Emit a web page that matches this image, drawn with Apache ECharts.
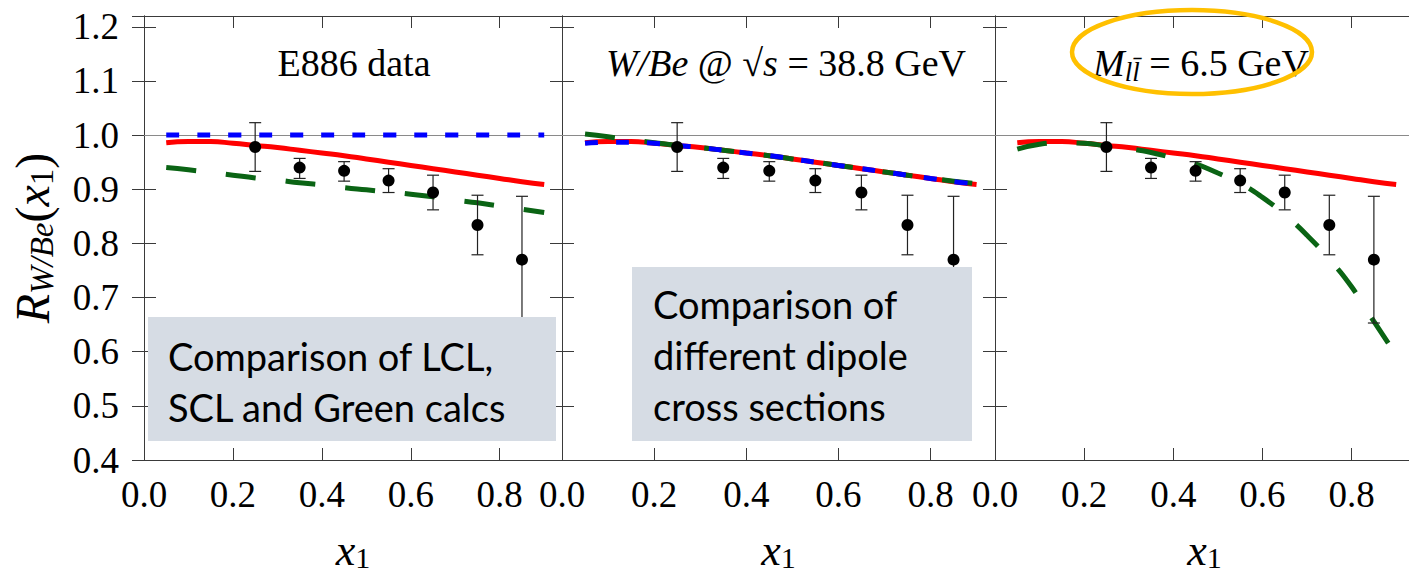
<!DOCTYPE html>
<html>
<head>
<meta charset="utf-8">
<script src="https://cdn.jsdelivr.net/npm/echarts@6/dist/echarts.min.js"></script>
<style>
  html, body { margin: 0; padding: 0; background: #fff; }
  #main { width: 1409px; height: 573px; }
</style>
</head>
<body>
<div id="main"></div>
<script>
// model curves, sampled along x1
const xCurve = [0.05, 0.10, 0.15, 0.20, 0.25, 0.30, 0.35, 0.40, 0.45, 0.50, 0.55, 0.60, 0.65, 0.70, 0.75, 0.80, 0.85, 0.90];
const redCurve = [0.986, 0.988, 0.988, 0.985, 0.981, 0.977, 0.972, 0.967, 0.962, 0.956, 0.950, 0.944, 0.938, 0.932, 0.926, 0.920, 0.914, 0.909];
const blueFlat = [1.0, 1.0, 1.0, 1.0, 1.0, 1.0, 1.0, 1.0, 1.0, 1.0, 1.0, 1.0, 1.0, 1.0, 1.0, 1.0, 1.0, 1.0];
const greenLCL = [0.940, 0.936, 0.931, 0.926, 0.921, 0.917, 0.912, 0.908, 0.903, 0.899, 0.895, 0.891, 0.886, 0.880, 0.875, 0.869, 0.863, 0.857];
const blueDipole = [0.985, 0.987, 0.987, 0.985, 0.981, 0.977, 0.972, 0.967, 0.962, 0.956, 0.950, 0.944, 0.938, 0.932, 0.926, 0.920, 0.914, 0.910];
const greenDipole = [1.002, 0.997, 0.991, 0.986, 0.981, 0.977, 0.972, 0.967, 0.962, 0.956, 0.950, 0.944, 0.938, 0.932, 0.926, 0.920, 0.915, 0.910];
const greenMass = [0.974, 0.983, 0.986, 0.985, 0.980, 0.975, 0.968, 0.958, 0.947, 0.930, 0.911, 0.885, 0.853, 0.815, 0.771, 0.720, 0.656, 0.594];

// E886 data points
const xData = [0.25, 0.35, 0.45, 0.55, 0.65, 0.75, 0.85];
const yData = [0.978, 0.940, 0.934, 0.916, 0.894, 0.834, 0.770];
const errLow = [0.933, 0.920, 0.915, 0.894, 0.862, 0.779, 0.653];
const errHigh = [1.023, 0.957, 0.951, 0.938, 0.926, 0.889, 0.887];

const serif = "'Liberation Serif', 'Times New Roman', serif";
const boxFont = 'Lato';
const RED = '#ff0000', BLUE = '#0000ff', GREEN = '#0a6414';
const FRAME = '#3a3a3a';

const panels = [
  { left: 144, width: 418 },
  { left: 562, width: 433 },
  { left: 995, width: 419 }
];

const pairs = (xs, ys) => xs.map((x, k) => [x, ys[k]]);

const mathRich = {
  n: { fontFamily: serif, fontWeight: 'normal', fontSize: 48, lineHeight: 52, color: '#000' },
  i: { fontFamily: serif, fontWeight: 'normal', fontStyle: 'italic', fontSize: 48, lineHeight: 52, color: '#000' },
  s: { fontFamily: serif, fontWeight: 'normal', fontStyle: 'italic', fontSize: 33, lineHeight: 29, verticalAlign: 'bottom', color: '#000' },
  sn: { fontFamily: serif, fontWeight: 'normal', fontSize: 33, lineHeight: 29, verticalAlign: 'bottom', color: '#000' }
};
// slightly tighter boxes for the x1 names, which sit close to the bottom edge
const xNameRich = {
  i: { fontFamily: serif, fontWeight: 'normal', fontStyle: 'italic', fontSize: 44, lineHeight: 44, color: '#000' },
  sn: { fontFamily: serif, fontWeight: 'normal', fontSize: 30, lineHeight: 26, verticalAlign: 'bottom', color: '#000' }
};

const tickRich = { t: { fontFamily: serif, fontWeight: 'normal', fontSize: 37, color: '#000' } };
const tickFmt = v => '{t|' + v.toFixed(1) + '}';

const xAxes = [], yAxes = [];
panels.forEach((p, g) => {
  const common = {
    gridIndex: g, type: 'value', min: 0, max: 0.94, interval: 0.2,
    axisLine: { show: true, lineStyle: { color: FRAME, width: 1 } },
    axisTick: { show: true, inside: true, length: 12, lineStyle: { color: FRAME, width: 1 } },
    splitLine: { show: false }
  };
  xAxes.push(Object.assign({}, common, {
    position: 'bottom',
    axisLabel: {
      fontFamily: serif, fontSize: 37, color: '#000', margin: 16,
      showMaxLabel: false, formatter: tickFmt, rich: tickRich
    },
    name: '{i|x}{sn|1}',
    nameLocation: 'middle',
    nameGap: 68,
    nameTextStyle: { fontFamily: serif, rich: xNameRich }
  }));
  xAxes.push(Object.assign({}, common, { position: 'top', axisLabel: { show: false } }));

  const ycommon = {
    gridIndex: g, type: 'value', min: 0.4, max: 1.22, interval: 0.1,
    axisLine: { show: true, lineStyle: { color: FRAME, width: 1 } },
    axisTick: { show: true, inside: true, length: 12, lineStyle: { color: FRAME, width: 1 } },
    splitLine: { show: false }
  };
  yAxes.push(Object.assign({}, ycommon, {
    position: 'left',
    axisLabel: {
      show: g === 0, fontFamily: serif, fontSize: 37, color: '#000', margin: 25,
      showMaxLabel: false, formatter: tickFmt, rich: tickRich
    },
    name: g === 0 ? '{i|R}{s|W/Be}{n|(}{i|x}{sn|1}{n|)}' : '',
    nameLocation: 'middle',
    nameRotate: 90,
    nameGap: 86,
    nameTextStyle: { fontFamily: serif, rich: mathRich }
  }));
  yAxes.push(Object.assign({}, ycommon, { position: 'right', axisLabel: { show: false } }));
});

function renderErrorBar(params, api) {
  const x = api.value(0);
  const lo = api.coord([x, api.value(1)]);
  const hi = api.coord([x, api.value(2)]);
  const cap = 6;
  const style = { stroke: '#222', lineWidth: 1.2 };
  return {
    type: 'group',
    children: [
      { type: 'line', shape: { x1: lo[0], y1: lo[1], x2: hi[0], y2: hi[1] }, style: style },
      { type: 'line', shape: { x1: lo[0] - cap, y1: lo[1], x2: lo[0] + cap, y2: lo[1] }, style: style },
      { type: 'line', shape: { x1: hi[0] - cap, y1: hi[1], x2: hi[0] + cap, y2: hi[1] }, style: style }
    ]
  };
}

function curve(g, ys, color, dash, z) {
  return {
    type: 'line', xAxisIndex: 2 * g, yAxisIndex: 2 * g,
    data: pairs(xCurve, ys), smooth: true, showSymbol: false, silent: true, z: z,
    lineStyle: { color: color, width: 5, type: dash || 'solid', cap: 'butt', opacity: 1 }
  };
}

function unityLine(g) {
  return {
    type: 'line', xAxisIndex: 2 * g, yAxisIndex: 2 * g, data: [], z: 1,
    markLine: {
      silent: true, z: 1, symbol: ['none', 'none'], label: { show: false },
      lineStyle: { color: '#8a8a8a', width: 1, type: 'solid' },
      data: [{ yAxis: 1.0 }]
    }
  };
}

function dataSeries(g) {
  return [
    {
      type: 'custom', xAxisIndex: 2 * g, yAxisIndex: 2 * g, z: 4,
      renderItem: renderErrorBar,
      encode: { x: 0, y: [1, 2] },
      data: xData.map((x, k) => [x, errLow[k], errHigh[k]])
    },
    {
      type: 'scatter', xAxisIndex: 2 * g, yAxisIndex: 2 * g, z: 5,
      symbol: 'circle', symbolSize: 12,
      itemStyle: { color: '#000', opacity: 1 },
      data: pairs(xData, yData)
    }
  ];
}

const series = [
  unityLine(0), unityLine(1), unityLine(2),
  // panel 1: LCL / SCL / Green
  curve(0, redCurve, RED, null, 2),
  curve(0, greenLCL, GREEN, [30, 30], 3),
  curve(0, blueFlat, BLUE, [13, 18], 3),
  ...dataSeries(0),
  // panel 2: dipole cross sections
  curve(1, redCurve, RED, null, 2),
  curve(1, greenDipole, GREEN, [30, 30], 3),
  curve(1, blueDipole, BLUE, [13, 18], 3),
  ...dataSeries(1),
  // panel 3: M = 6.5 GeV
  curve(2, redCurve, RED, null, 2),
  curve(2, greenMass, GREEN, [30, 30], 3),
  ...dataSeries(2)
];

const titleRich = {
  n: { fontFamily: serif, fontWeight: 'normal', fontSize: 38, lineHeight: 44, color: '#000' },
  i: { fontFamily: serif, fontWeight: 'normal', fontStyle: 'italic', fontSize: 38, lineHeight: 44, color: '#000' },
  s: { fontFamily: serif, fontWeight: 'normal', fontStyle: 'italic', fontSize: 27, lineHeight: 26, verticalAlign: 'bottom', color: '#000' }
};
const titleStyle = { fontFamily: serif, fontWeight: 'normal', rich: titleRich };

const option = {
  animation: false,
  backgroundColor: '#ffffff',
  title: [
    { text: '{n|E886 data}', left: 349, top: 36, textAlign: 'center', textStyle: titleStyle },
    { text: '{i|W/Be}{n| @ √}{i|s}{n| = 38.8 GeV}', left: 781, top: 36, textAlign: 'center', textStyle: titleStyle },
    { text: '{i|M}{s|ll\u0304}{n| = 6.5 GeV}', left: 1196, top: 36, textAlign: 'center', textStyle: titleStyle }
  ],
  grid: panels.map(p => ({
    left: p.left, width: p.width, top: 16, height: 444,
    containLabel: false, outerBoundsMode: 'none'
  })),
  xAxis: xAxes,
  yAxis: yAxes,
  series: series,
  graphic: [
    {
      type: 'rect', z: 100, shape: { x: 148, y: 317, width: 408, height: 124 },
      style: { fill: '#d6dce4' }
    },
    {
      type: 'text', z: 101, x: 168, y: 330,
      style: {
        text: 'Comparison of LCL,\nSCL and Green calcs',
        font: '38px ' + boxFont, lineHeight: 51, fill: '#000'
      }
    },
    {
      type: 'rect', z: 100, shape: { x: 632, y: 267, width: 340, height: 174 },
      style: { fill: '#d6dce4' }
    },
    {
      type: 'text', z: 101, x: 653, y: 278,
      style: {
        text: 'Comparison of\ndifferent dipole\ncross sections',
        font: '38px ' + boxFont, lineHeight: 51, fill: '#000'
      }
    },
    {
      type: 'ellipse', z: 100, shape: { cx: 1192, cy: 52, rx: 120, ry: 42 },
      style: { fill: 'none', stroke: '#ffc000', lineWidth: 4.5 }
    }
  ]
};

const chart = echarts.init(document.getElementById('main'), null, { renderer: 'svg' });
chart.setOption(option);
</script>
</body>
</html>
